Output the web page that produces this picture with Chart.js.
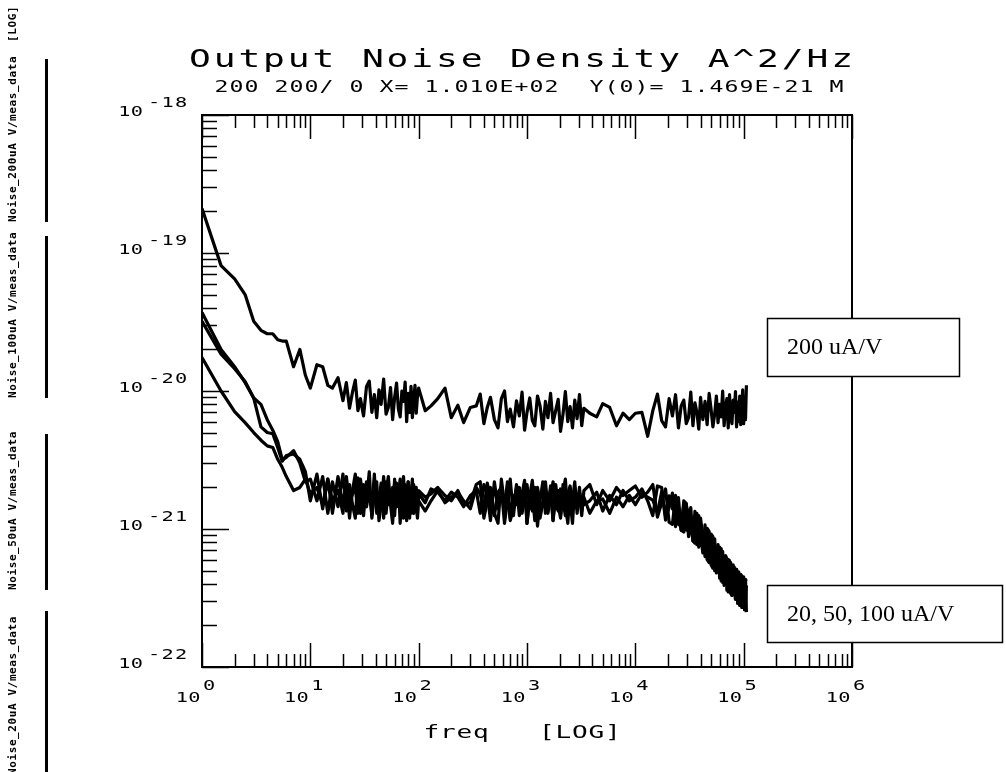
<!DOCTYPE html>
<html>
<head>
<meta charset="utf-8">
<script src="https://cdn.jsdelivr.net/npm/chart.js@4.4.1/dist/chart.umd.min.js"></script>
<style>
  html, body { margin: 0; padding: 0; background: #fff; }
  #noise-chart { display: block; }
</style>
</head>
<body>
<canvas id="noise-chart" width="1006" height="772"></canvas>
<script>
// frequency points (Hz), shared by all curves
const freq = [
  1, 1.5, 2, 2.5, 3, 3.5, 4, 4.5, 5, 5.5, 6, 7, 8, 9, 10,
  11.5, 13, 14.5, 16, 18, 20,
  21.5, 23, 24.5, 26, 27.5, 29, 31, 33, 35, 37, 39, 41, 43, 45, 47.5, 50, 52.5, 55, 57.5, 60,
  62.5, 65, 67.5, 70, 72.5, 75, 77.5, 80, 82.5, 85, 87.5, 90, 92.5, 95, 97.5, 100,
  115, 130, 150, 175, 200, 230, 260, 300, 340,
  370, 400, 430, 460, 500, 540, 580, 620, 660, 700, 750, 800, 850, 900, 950, 1000, 1060, 1120, 1180, 1250,
  1320, 1400, 1480, 1560, 1650, 1740, 1840, 1940, 2040, 2150, 2260, 2380, 2500, 2630, 2760, 2900, 3050, 3200, 3350,
  3800, 4400, 5000, 5800, 6700, 7700, 8800, 10000, 11500, 13000,
  14500, 16000, 17500, 19000, 20500, 22000, 23500, 25000, 26500, 28000, 29500, 31000, 32500, 34000, 35500, 37000, 38500,
  40000, 42000, 44000, 46000, 48000, 50000, 52000, 54000, 56000, 58000, 60000, 62000, 64000, 66000, 68000, 70000,
  72000, 74000, 76000, 78000, 80000, 82000, 84000, 86000, 88000, 90000, 92000, 94000, 96000, 98000, 100000, 102000, 104000, 106000
];

// output noise density, in units of 1e-21 A^2/Hz
const noise200 = [
  210, 81, 65, 50, 32, 27.5, 26, 26, 23.5, 23, 23, 15, 20, 13, 10.5,
  15.5, 15, 11, 10.5, 12.5, 8.5,
  11.5, 7.5, 9.8, 12, 7.2, 8.8, 6.6, 10.8, 11.8, 7.0, 9.4, 6.4, 10.2, 8.0, 12.2, 6.8, 7.6, 10.6, 6.2, 9.0,
  11.4, 7.4, 6.5, 10.0, 8.4, 11.6, 6.0, 9.6, 7.0, 10.8, 6.4, 8.6, 11.0, 6.9, 9.2, 10.5,
  7.2, 7.8, 8.8, 10.5, 6.4, 7.9, 5.9, 7.6, 7.8,
  9.5, 5.8, 7.6, 9.0, 6.2, 5.4, 8.8, 10.0, 6.0, 7.4, 5.5, 8.5, 6.6, 9.8, 5.2, 7.0, 8.9, 6.1, 5.6, 9.2,
  7.8, 5.3, 8.4, 6.4, 9.6, 5.9, 7.2, 8.7, 5.1, 6.8, 9.9, 6.0, 7.7, 5.4, 8.6, 6.3, 9.4, 5.6, 7.5,
  6.9, 6.5, 8.1, 7.6, 5.6, 6.9, 6.2, 6.9, 7.0, 4.7,
  7.2, 9.5, 6.1, 5.5, 8.8, 6.6, 9.4, 5.4, 7.8, 8.6, 5.8, 6.4, 9.8, 5.6, 8.2, 7.0, 5.3,
  9.0, 6.2, 8.4, 5.7, 9.6, 7.4, 5.5, 6.8, 9.2, 5.9, 8.0, 6.5, 10.0, 5.6, 7.6, 8.8,
  5.4, 9.4, 6.3, 5.8, 8.6, 7.0, 9.9, 5.5, 8.3, 6.0, 9.2, 5.7, 7.8, 10.2, 5.8, 9.0, 6.2, 11.0
];
const noise100 = [
  37, 20, 15, 11.5, 8.9, 5.5, 5.0, 4.9, 3.9, 3.1, 3.4, 3.5, 3.2, 2.6, 1.6,
  2.5, 1.4, 2.3, 1.3, 2.4, 1.5,
  2.2, 1.2, 1.9, 2.5, 1.4, 1.3, 2.1, 1.6, 2.6, 1.2, 1.8, 2.2, 1.15, 1.5, 2.4, 1.3, 2.0, 1.7, 1.2, 2.3,
  1.45, 2.1, 1.1, 1.9, 2.4, 1.35, 1.6, 2.2, 1.2, 1.8, 2.3, 1.3, 1.55, 2.0, 1.25, 1.9,
  1.7, 1.8, 2.0, 1.75, 1.6, 1.9, 1.5, 1.55, 2.1,
  2.2, 1.2, 1.6, 2.0, 1.3, 1.1, 2.3, 1.5, 1.9, 1.15, 1.4, 2.1, 1.25, 1.8, 2.25, 1.1, 1.7, 1.35, 2.0, 1.05,
  1.6, 2.2, 1.3, 1.45, 1.95, 1.15, 2.1, 1.5, 1.2, 1.85, 2.3, 1.3, 1.6, 1.1, 2.0, 1.4, 1.8, 1.25, 1.9,
  2.1, 1.5, 1.9, 1.6, 2.0, 1.75, 1.9, 2.05, 1.7, 1.85,
  2.1, 1.22, 1.55, 1.95, 1.12, 1.08, 1.75, 1.3, 0.98, 1.6, 1.53, 0.88, 1.1, 0.82, 1.34, 0.77, 1.25,
  0.92, 0.67, 1.07, 0.6, 0.57, 0.92, 0.88, 0.5, 0.62, 0.77, 0.44, 0.72, 0.41, 0.51, 0.64, 0.36,
  0.6, 0.59, 0.34, 0.33, 0.55, 0.41, 0.31, 0.51, 0.29, 0.49, 0.28, 0.36, 0.46, 0.27, 0.45, 0.26, 0.43, 0.25
];
const noise50 = [
  32, 18.5, 14.5, 11.7, 8.9, 8.0, 6.2, 5.2, 4.3, 3.2, 3.3, 3.7, 3.0, 2.2, 2.3,
  1.6, 2.4, 1.3, 2.2, 1.45, 2.5,
  1.35, 2.1, 1.5, 1.2, 2.35, 1.7, 1.25, 2.2, 1.9, 1.4, 2.5, 1.3, 1.6, 2.15, 1.2, 1.85, 2.4, 1.5, 1.1, 2.2,
  1.45, 1.8, 2.3, 1.3, 1.65, 2.05, 1.15, 2.2, 1.4, 1.75, 2.1, 1.3, 2.0, 1.5, 1.2, 1.8,
  1.55, 1.95, 1.85, 1.6, 1.85, 1.7, 1.45, 1.75, 1.9,
  1.3, 2.1, 1.8, 1.15, 2.2, 1.4, 1.95, 1.1, 1.6, 2.3, 1.25, 2.0, 1.5, 1.35, 2.15, 1.1, 1.75, 2.25, 1.3, 1.9,
  1.2, 1.55, 2.2, 1.4, 2.05, 1.15, 1.7, 1.9, 1.25, 2.1, 1.5, 1.1, 1.95, 1.6, 2.2, 1.3, 1.85, 1.45, 1.5,
  1.6, 1.85, 1.35, 1.75, 1.5, 1.9, 1.6, 1.7, 1.95, 1.6,
  1.25, 2.05, 2.0, 1.16, 1.45, 1.82, 1.04, 1.69, 0.98, 0.95, 1.53, 1.14, 1.43, 0.82, 0.79, 1.3, 0.74,
  1.2, 0.87, 0.63, 1.01, 0.96, 0.55, 0.52, 0.85, 0.48, 0.59, 0.74, 0.42, 0.69, 0.39, 0.64, 0.61,
  0.35, 0.35, 0.57, 0.33, 0.42, 0.53, 0.31, 0.51, 0.29, 0.48, 0.28, 0.47, 0.27, 0.345, 0.44, 0.26, 0.43, 0.42
];
const noise20 = [
  17.5, 10, 7.1, 5.9, 5.0, 4.4, 4.0, 3.9, 3.2, 2.8, 2.4, 1.9, 2.0, 2.3, 1.8,
  2.0, 1.5, 2.3, 1.6, 1.9, 1.3,
  2.4, 1.55, 1.8, 2.0, 1.3, 2.3, 1.6, 1.45, 1.9, 1.25, 2.25, 1.7, 1.5, 1.85, 1.3, 2.2, 1.5, 1.65, 2.0, 1.25,
  2.15, 1.6, 1.4, 1.9, 1.2, 2.1, 1.75, 1.45, 1.95, 1.3, 1.8, 2.1, 1.35, 1.6, 1.5, 1.6,
  1.35, 1.6, 1.9, 1.55, 1.7, 1.85, 1.6, 1.4, 2.0,
  1.8, 1.4, 2.15, 1.6, 1.25, 1.85, 2.0, 1.45, 2.2, 1.2, 1.75, 1.5, 2.0, 1.3, 1.65, 2.1, 1.4, 1.8, 1.15, 2.0,
  1.55, 1.45, 1.9, 1.3, 1.7, 2.2, 1.5, 1.35, 1.95, 1.6, 1.25, 1.8, 2.05, 1.4, 1.7, 1.5, 2.0, 1.35, 1.7,
  1.3, 1.6, 1.65, 1.3, 1.7, 1.45, 1.75, 1.5, 1.8, 1.7,
  1.62, 1.31, 1.86, 1.25, 1.74, 1.4, 1.62, 1.08, 1.05, 1.48, 0.98, 1.37, 1.1, 0.88, 1.24, 0.83, 1.15,
  0.76, 0.87, 0.98, 0.65, 0.89, 0.59, 0.56, 0.78, 0.62, 0.49, 0.68, 0.46, 0.64, 0.42, 0.49, 0.56,
  0.38, 0.54, 0.37, 0.52, 0.42, 0.34, 0.48, 0.32, 0.46, 0.31, 0.365, 0.43, 0.29, 0.41, 0.28, 0.4, 0.27, 0.39
];

// axes: x in Hz, y in units of 1e-21 A^2/Hz
const xDecades = [1, 10, 100, 1000, 10000, 100000, 1000000];
const xExponents = ['0', '1', '2', '3', '4', '5', '6'];
const yDecades = [0.1, 1, 10, 100, 1000];
const yExponents = ['-22', '-21', '-20', '-19', '-18'];
const minorSteps = [2, 3, 4, 5, 6, 7, 8, 9];

const traceNames = ['Noise_200uA V/meas_data', 'Noise_100uA V/meas_data', 'Noise_50uA V/meas_data', 'Noise_20uA V/meas_data'];
const titleText = 'Output Noise Density A^2/Hz';
const cursorText = '200 200/ 0 X= 1.010E+02  Y(0)= 1.469E-21 M';
const xTitle = 'freq   [LOG]';
const callouts = ['200 uA/V', '20, 50, 100 uA/V'];

// plot frame in canvas pixels
const FRAME = { left: 202, right: 852, top: 115, bottom: 667 };
const MONO = '"DejaVu Sans Mono", "Liberation Mono", monospace';

// wide "plotter" lettering: monospace font stretched to a fixed pitch
function wideText(ctx, str, x, y, size, pitch, align) {
  ctx.font = `${size}px ${MONO}`;
  ctx.letterSpacing = '0px';
  const adv = ctx.measureText('M').width;
  const sx = Math.min(1.45, pitch / adv);
  const gap = pitch / sx - adv;
  const w = str.length * adv + (str.length - 1) * gap;
  ctx.save();
  ctx.translate(x, y);
  ctx.scale(sx, 1);
  ctx.letterSpacing = gap + 'px';
  ctx.textAlign = 'left';
  ctx.textBaseline = 'middle';
  const x0 = align === 'center' ? -w / 2 : align === 'right' ? -w : 0;
  ctx.fillText(str, x0, 0);
  ctx.restore();
  ctx.letterSpacing = '0px';
}

const framePlugin = {
  id: 'frame',
  beforeDraw(chart) {
    const ctx = chart.ctx;
    ctx.save();
    ctx.fillStyle = '#fff';
    ctx.fillRect(0, 0, chart.width, chart.height);
    ctx.restore();
  },
  afterDatasetsDraw(chart) {
    const ctx = chart.ctx;
    const xs = chart.scales.x, ys = chart.scales.y;
    const { left, right, top, bottom } = chart.chartArea;
    ctx.save();
    ctx.strokeStyle = '#000';
    ctx.fillStyle = '#000';

    // frame
    ctx.lineWidth = 2;
    ctx.beginPath();
    ctx.moveTo(left, top); ctx.lineTo(right, top); ctx.lineTo(right, bottom);
    ctx.lineTo(left, bottom); ctx.closePath();
    ctx.stroke();

    // x ticks, bottom (up) and top (down)
    ctx.lineWidth = 1.5;
    ctx.beginPath();
    xDecades.forEach((d, i) => {
      const px = Math.round(xs.getPixelForValue(d)) + 0.5;
      ctx.moveTo(px, bottom); ctx.lineTo(px, bottom - 24);
      ctx.moveTo(px, top); ctx.lineTo(px, top + 24);
      if (i < xDecades.length - 1) {
        minorSteps.forEach(k => {
          const mx = Math.round(xs.getPixelForValue(k * d)) + 0.5;
          ctx.moveTo(mx, bottom); ctx.lineTo(mx, bottom - 13);
          ctx.moveTo(mx, top); ctx.lineTo(mx, top + 13);
        });
      }
    });
    // y ticks, left side only
    yDecades.forEach((d, i) => {
      const py = Math.round(ys.getPixelForValue(d)) + 0.5;
      ctx.moveTo(left, py); ctx.lineTo(left + 27, py);
      if (i < yDecades.length - 1) {
        minorSteps.forEach(k => {
          const my = Math.round(ys.getPixelForValue(k * d)) + 0.5;
          ctx.moveTo(left, my); ctx.lineTo(left + 15, my);
        });
      }
    });
    ctx.stroke();

    // tick labels: 10 with raised exponent
    xDecades.forEach((d, i) => {
      const px = xs.getPixelForValue(d);
      wideText(ctx, '10', px - 14, bottom + 31, 14, 12.5, 'center');
      wideText(ctx, xExponents[i], px + 7, bottom + 19, 14, 12.5, 'center');
    });
    yDecades.forEach((d, i) => {
      const py = ys.getPixelForValue(d);
      wideText(ctx, '10', 143, py - 3, 14, 12.5, 'right');
      wideText(ctx, yExponents[i], 148, py - 12, 14, 13.5, 'left');
    });

    // titles
    wideText(ctx, titleText, 521, 60, 25, 24.7, 'center');
    wideText(ctx, cursorText, 529, 88, 16, 15, 'center');
    wideText(ctx, xTitle, 522, bottom + 66, 18, 16.5, 'center');

    // trace list on the left, rotated, each with a line sample
    const slots = [[55, 222], [232, 398], [430, 590], [607, 775]];
    ctx.font = `bold 11px ${MONO}`;
    ctx.textBaseline = 'middle';
    slots.forEach(([y0, y1], i) => {
      ctx.save();
      ctx.translate(13, y1);
      ctx.rotate(-Math.PI / 2);
      ctx.letterSpacing = '0.6px';
      ctx.textAlign = 'left';
      ctx.fillText(traceNames[i], 0, 0);
      ctx.restore();
      ctx.fillRect(45, y0 + 4, 3, y1 - y0 - 4);
    });
    ctx.save();
    ctx.translate(13, 42);
    ctx.rotate(-Math.PI / 2);
    ctx.textAlign = 'left';
    ctx.letterSpacing = '0.6px';
    ctx.fillText('[LOG]', 0, 0);
    ctx.restore();
    ctx.letterSpacing = '0px';

    // callout boxes laid over the right edge
    const boxes = [[767, 318, 959, 376], [767, 585, 1002, 642]];
    ctx.font = '24px "Liberation Serif", "Times New Roman", serif';
    ctx.textAlign = 'left';
    ctx.textBaseline = 'middle';
    boxes.forEach(([x0, y0, x1, y1], i) => {
      ctx.fillStyle = '#fff';
      ctx.fillRect(x0, y0, x1 - x0, y1 - y0);
      ctx.lineWidth = 1.5;
      ctx.strokeRect(x0 + 0.5, y0 + 0.5, x1 - x0, y1 - y0);
      ctx.fillStyle = '#000';
      ctx.fillText(callouts[i], x0 + 20, (y0 + y1) / 2 + 1);
    });
    ctx.restore();
  }
};

function series(values) {
  return freq.map((f, i) => ({ x: f, y: values[i] }));
}

const lineStyle = {
  borderColor: '#000',
  borderWidth: 3.2,
  borderJoinStyle: 'round',
  pointRadius: 0,
  tension: 0,
  fill: false
};

new Chart(document.getElementById('noise-chart'), {
  type: 'line',
  data: {
    datasets: [
      { label: 'Noise_200uA', data: series(noise200), ...lineStyle },
      { label: 'Noise_100uA', data: series(noise100), ...lineStyle },
      { label: 'Noise_50uA', data: series(noise50), ...lineStyle },
      { label: 'Noise_20uA', data: series(noise20), ...lineStyle }
    ]
  },
  options: {
    responsive: false,
    animation: false,
    devicePixelRatio: 1,
    layout: {
      padding: { left: FRAME.left, right: 1006 - FRAME.right, top: FRAME.top, bottom: 772 - FRAME.bottom }
    },
    plugins: { legend: { display: false }, tooltip: { enabled: false } },
    scales: {
      x: { type: 'logarithmic', min: 1, max: 1e6, display: false },
      y: { type: 'logarithmic', min: 0.1, max: 1000, display: false }
    }
  },
  plugins: [framePlugin]
});
</script>
</body>
</html>
